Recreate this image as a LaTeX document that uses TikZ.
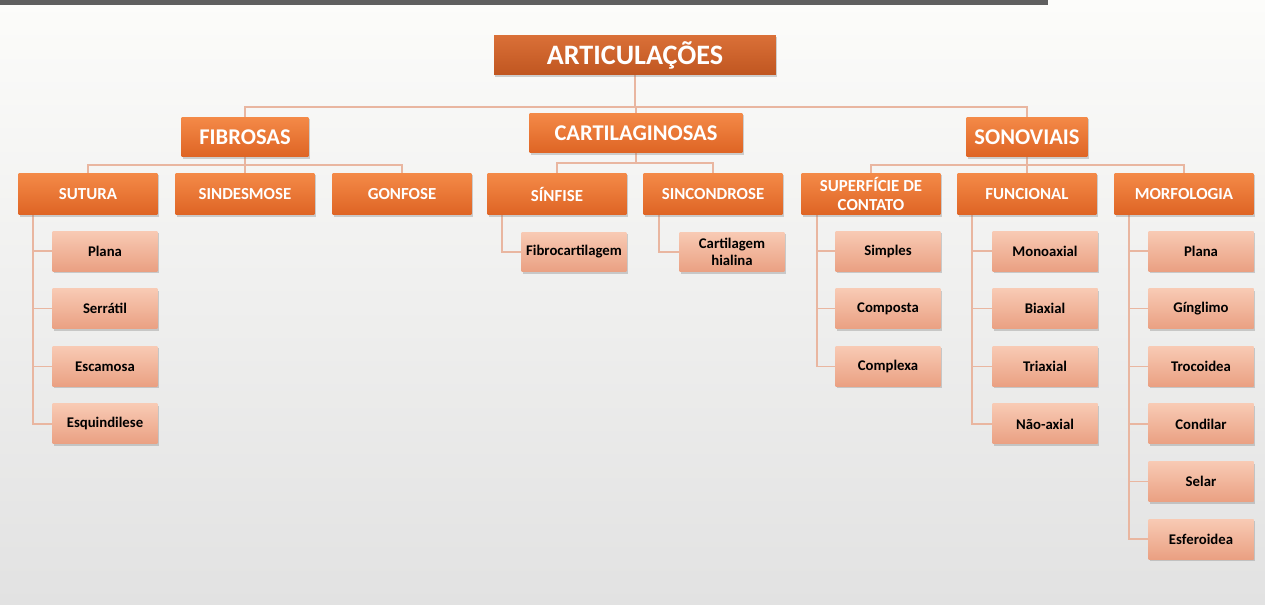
\documentclass[tikz,border=0pt]{standalone}
\usepackage{fontspec}
\setmainfont{Carlito}
\usepackage{xcolor}
\usetikzlibrary{shadows,calc,backgrounds}

\definecolor{bgtop}{RGB}{252,252,250}
\definecolor{bgbot}{RGB}{226,226,226}
\definecolor{bargray}{RGB}{95,95,95}
\definecolor{rusttop}{RGB}{218,112,56}
\definecolor{rustbot}{RGB}{192,86,32}
\definecolor{orangetop}{RGB}{244,138,72}
\definecolor{orangebot}{RGB}{222,100,36}
\definecolor{peachtop}{RGB}{248,202,180}
\definecolor{peachbot}{RGB}{234,160,130}
\definecolor{linkcol}{RGB}{233,182,160}

\begin{document}
\begin{tikzpicture}[
        x=0.02cm, y=-0.02cm,
        box/.style={rectangle, inner sep=1pt, align=center, drop shadow={opacity=0.35, shadow xshift=0.7pt, shadow yshift=-1.2pt}},
        root/.style={box, top color=rusttop, bottom color=rustbot, text=white, minimum width=5.64cm, minimum height=0.8cm, font=\bfseries\fontsize{16}{18}\selectfont},
        group/.style={box, top color=orangetop, bottom color=orangebot, text=white, minimum height=0.8cm, font=\bfseries\fontsize{12.8}{14}\selectfont},
        kind/.style={box, top color=orangetop, bottom color=orangebot, text=white, minimum width=2.78cm, minimum height=0.84cm, font=\bfseries\fontsize{9.6}{10.5}\selectfont},
        leaf/.style={box, top color=peachtop, bottom color=peachbot, text=black, minimum width=2.1cm, minimum height=0.8cm, font=\bfseries\fontsize{8.4}{9.6}\selectfont},
        link/.style={draw=linkcol, line width=0.8pt}
    ]
        \useasboundingbox (0,0) rectangle (1265,605);

        % Nodes
        \node[root] (art) at (635,55) {ARTICULAÇÕES};

        \node[group, minimum width=2.54cm] (fib) at (245,137) {FIBROSAS};
        \node[group, minimum width=4.26cm] (car) at (636,133) {CARTILAGINOSAS};
        \node[group, minimum width=2.42cm] (son) at (1027,137) {SONOVIAIS};

        \node[kind] (sut) at (88,194) {SUTURA};
        \node[kind] (sin) at (245,194) {SINDESMOSE};
        \node[kind] (gon) at (402,194) {GONFOSE};
        \node[kind] (sinf) at (557,194) {SÍNFISE};
        \node[kind] (sinc) at (713,194) {SINCONDROSE};
        \node[kind] (sup) at (871,194) {SUPERFÍCIE DE\\CONTATO};
        \node[kind] (fun) at (1027,194) {FUNCIONAL};
        \node[kind] (mor) at (1184,194) {MORFOLOGIA};

        \foreach \t [count=\i] in {Plana, Serrátil, Escamosa, Esquindilese}
            \node[leaf] (sut\i) at (105,193.5+57.6*\i) {\t};
        \node[leaf] (sinf1) at (574,252) {Fibrocartilagem};
        \node[leaf] (sinc1) at (732,252) {Cartilagem\\hialina};
        \foreach \t [count=\i] in {Simples, Composta, Complexa}
            \node[leaf] (sup\i) at (888,193.5+57.6*\i) {\t};
        \foreach \t [count=\i] in {Monoaxial, Biaxial, Triaxial, Não-axial}
            \node[leaf] (fun\i) at (1045,193.5+57.6*\i) {\t};
        \foreach \t [count=\i] in {Plana, Gínglimo, Trocoidea, Condilar, Selar, Esferoidea}
            \node[leaf] (mor\i) at (1201,193.5+57.6*\i) {\t};

        \begin{scope}[on background layer]
        % Background
        \shade[top color=bgtop, bottom color=bgbot] (0,0) rectangle (1265,605);
        \fill[bargray] (0,0) rectangle (1048,5);

        % Edges
        \coordinate (b0) at (635,107);
        \coordinate (b1) at (245,165);
        \coordinate (b2) at (636,163);
        \coordinate (b3) at (1027,165);
        \draw[link] (art) -- (b0);
        \foreach \n in {fib, car, son}
            \draw[link] (b0) -| (\n);
        \draw[link] (fib) -- (b1);
        \foreach \n in {sut, sin, gon}
            \draw[link] (b1) -| (\n);
        \draw[link] (car) -- (b2);
        \foreach \n in {sinf, sinc}
            \draw[link] (b2) -| (\n);
        \draw[link] (son) -- (b3);
        \foreach \n in {sup, fun, mor}
            \draw[link] (b3) -| (\n);

        \foreach \i in {1,...,4}
            \draw[link] ($(sut.south west)+(15,0)$) |- (sut\i.west);
        \draw[link] ($(sinf.south west)+(15,0)$) |- (sinf1.west);
        \draw[link] ($(sinc.south west)+(16,0)$) |- (sinc1.west);
        \foreach \i in {1,...,3}
            \draw[link] ($(sup.south west)+(16,0)$) |- (sup\i.west);
        \foreach \i in {1,...,4}
            \draw[link] ($(fun.south west)+(15,0)$) |- (fun\i.west);
        \foreach \i in {1,...,6}
            \draw[link] ($(mor.south west)+(15,0)$) |- (mor\i.west);
        \end{scope}
    \end{tikzpicture}
\end{document}
